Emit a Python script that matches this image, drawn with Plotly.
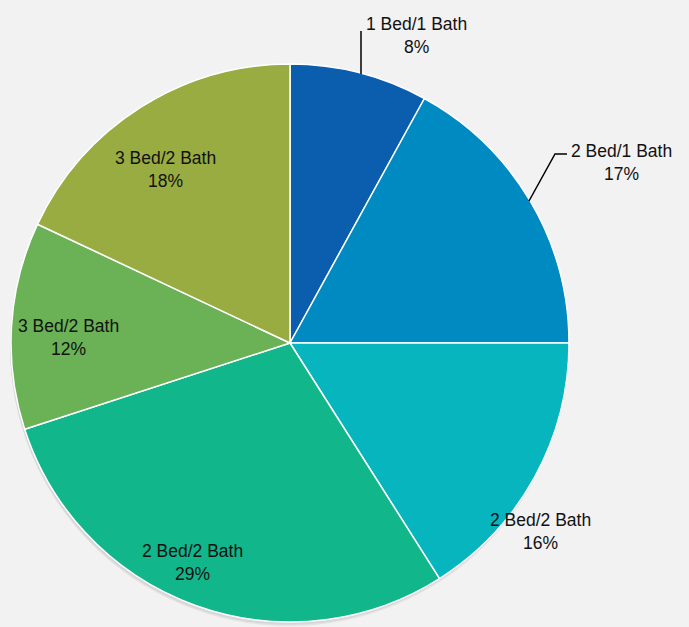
import plotly.graph_objects as go

labels = ["1 Bed/1 Bath", "2 Bed/1 Bath", "2 Bed/2 Bath", "2 Bed/2 Bath", "3 Bed/2 Bath", "3 Bed/2 Bath"]
values = [8, 17, 16, 29, 12, 18]
colors = ["#0B5DAD", "#008AC2", "#07B5BE", "#11B68A", "#6AB255", "#99AC42"]

W, H = 689, 627
cx, cy, R = 290, 343, 279

def px(x):
    return x / W

def py(y):
    return 1 - y / H

fig = go.Figure()

# soft shadow under pie
for off, col in [(4, "#E3E3E3"), (2.5, "#D6D6D6")]:
    fig.add_trace(go.Pie(
        values=[1], labels=["shadow"], marker=dict(colors=[col], line=dict(width=0)),
        textinfo="none", hoverinfo="skip", sort=False, showlegend=False,
        domain=dict(x=[px(cx - R - 1), px(cx + R - 1)], y=[py(cy + R + off), py(cy - R + off)]),
    ))

fig.add_trace(go.Pie(
    values=values,
    labels=[f"{l} ({i})" for i, l in enumerate(labels)],
    marker=dict(colors=colors, line=dict(color="white", width=1.5)),
    sort=False, direction="clockwise", rotation=0,
    textinfo="none", showlegend=False,
    domain=dict(x=[px(cx - R), px(cx + R)], y=[py(cy + R), py(cy - R)]),
))

# label positions (pixel centres) - layout styling
label_pos = [(416, 36), (621, 162), (540, 531), (192, 562), (68, 337), (165, 170)]
total = sum(values)
for lab, v, (lx, ly) in zip(labels, values, label_pos):
    fig.add_annotation(
        x=px(lx), y=py(ly), xref="paper", yref="paper",
        text=f"{lab}<br>{round(100 * v / total)}%",
        showarrow=False,
        font=dict(family="Liberation Sans, Arial", size=17.5, color="#111111"),
        xanchor="center", yanchor="middle", align="center",
    )

# leader lines
fig.add_shape(type="line", xref="paper", yref="paper",
              x0=px(361), y0=py(31), x1=px(361), y1=py(74),
              line=dict(color="black", width=1.5))
fig.add_shape(type="path", xref="paper", yref="paper",
              path=f"M {px(567)} {py(154)} L {px(555)} {py(154)} L {px(529)} {py(201)}",
              line=dict(color="black", width=1.5))

fig.update_layout(
    width=W, height=H,
    margin=dict(l=0, r=0, t=0, b=0),
    paper_bgcolor="#F2F2F2", plot_bgcolor="#F2F2F2",
)

fig.write_html(
    "out.html",
    config={"displayModeBar": False},
    post_script="document.body.style.margin='0';document.body.style.background='#F2F2F2';",
)
